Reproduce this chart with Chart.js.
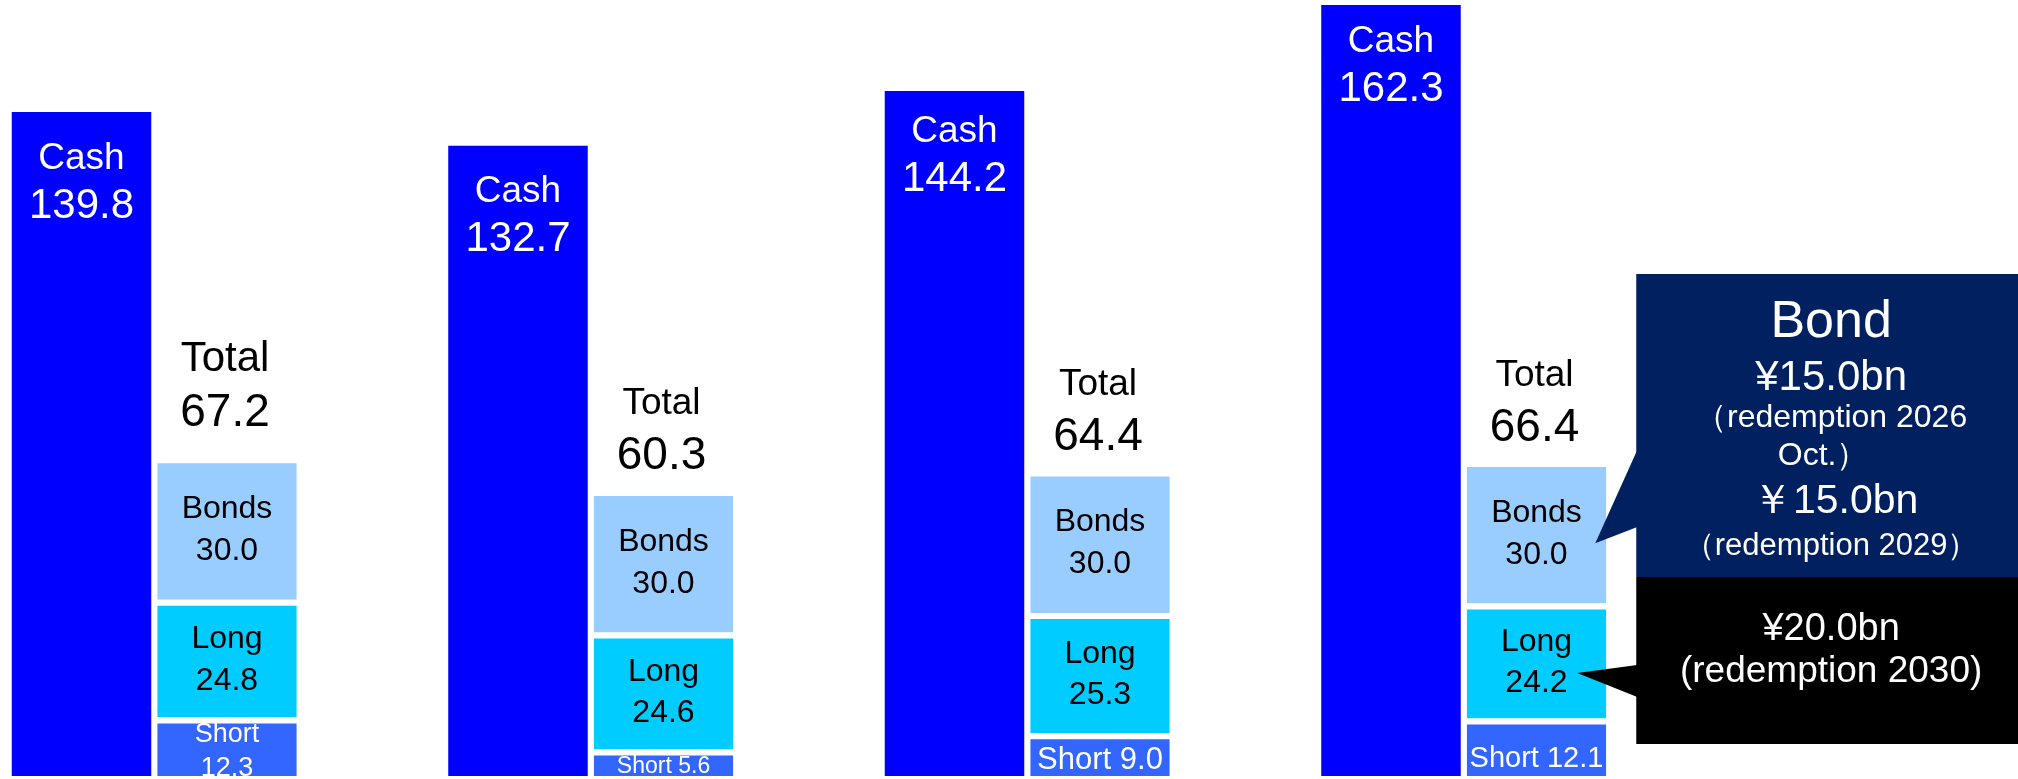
<!DOCTYPE html>
<html>
<head>
<meta charset="utf-8">
<script src="https://cdn.jsdelivr.net/npm/chart.js@4.4.1/dist/chart.umd.min.js"></script>
<style>
  body { margin: 0; background: #fff; }
  #wrap { position: relative; width: 2018px; height: 779px; }
</style>
</head>
<body>
<div id="wrap"><canvas id="myChart"></canvas></div>
<script>
// chart values (yen bn)
var categories = ['1', '2', '3', '4'];
var cashValues = [139.8, 132.7, 144.2, 162.3];
var shortValues = [12.3, 5.6, 9.0, 12.1];
var longValues = [24.8, 24.6, 25.3, 24.2];
var bondValues = [30.0, 30.0, 30.0, 30.0];
var totalValues = [67.2, 60.3, 64.4, 66.4];

// callout texts
var bondNote = ['Bond', '¥15.0bn', '（redemption 2026', 'Oct.）', '￥15.0bn', '（redemption 2029）'];
var longNote = ['¥20.0bn', '(redemption 2030)'];

var FONT = "'Liberation Sans', Arial, sans-serif";
var GAP = 6; // white gap on top of each stacked piece

// per-group label tweaks
var shortFont = [27, 23, 31, 29];
var shortTwoLines = [true, false, false, false];
var shortShift = [0, -1, 0, 6];
var cashShift = [5, 4, -1, -5];
var totalWordFont = [42, 37, 37, 37];
var totalGap = [37, 27, 27, 26];

function txt(ctx, s, x, y, size, color) {
    ctx.font = size + 'px ' + FONT;
    ctx.fillStyle = color;
    ctx.textAlign = 'center';
    ctx.textBaseline = 'alphabetic';
    ctx.fillText(s, x, y);
}

function twoLines(ctx, a, b, x, cy, size, color, lh, shift) {
    var gap = size * lh;
    var cap = size * 0.716;
    txt(ctx, a, x, cy - gap / 2 + cap / 2 + shift, size, color);
    txt(ctx, b, x, cy + gap / 2 + cap / 2 + shift, size, color);
}

var labelPlugin = {
    id: 'labels',
    afterDatasetsDraw: function(chart) {
        var ctx = chart.ctx;
        ctx.save();
        var cash = chart.getDatasetMeta(0).data;
        var shorts = chart.getDatasetMeta(1).data;
        var longs = chart.getDatasetMeta(2).data;
        var bonds = chart.getDatasetMeta(3).data;

        for (var i = 0; i < categories.length; i++) {
            // Cash
            var c = cash[i];
            txt(ctx, 'Cash', c.x, c.y + 52 + cashShift[i], 37, '#fff');
            txt(ctx, cashValues[i].toFixed(1), c.x, c.y + 101 + cashShift[i], 42, '#fff');

            // Short
            var s = shorts[i];
            var scy = (s.y + GAP + s.base) / 2;
            if (shortTwoLines[i]) {
                twoLines(ctx, 'Short', shortValues[i].toFixed(1), s.x, scy, shortFont[i], '#fff', 1.26, 0);
            } else {
                txt(ctx, 'Short ' + shortValues[i].toFixed(1), s.x, scy + shortFont[i] * 0.358 + shortShift[i], shortFont[i], '#fff');
            }

            // Long
            var l = longs[i];
            twoLines(ctx, 'Long', longValues[i].toFixed(1), l.x, (l.y + GAP + l.base) / 2, 32, '#000', 1.3, -4);

            // Bonds
            var b = bonds[i];
            twoLines(ctx, 'Bonds', bondValues[i].toFixed(1), b.x, (b.y + GAP + b.base) / 2, 32, '#000', 1.3, -4);

            // Total above the stack
            var numY = b.y + GAP - totalGap[i];
            txt(ctx, totalValues[i].toFixed(1), b.x - 2, numY, 46, '#000');
            txt(ctx, 'Total', b.x - 2, numY - 55, totalWordFont[i], '#000');
        }
        ctx.restore();
    },
    afterDraw: function(chart) {
        var ctx = chart.ctx;
        var last = categories.length - 1;
        var b = chart.getDatasetMeta(3).data[last];
        var l = chart.getDatasetMeta(2).data[last];
        var right = b.x + b.width / 2;
        var boxL = right + 30;
        var boxR = chart.width;
        var cx = (boxL + boxR) / 2 + 4;

        ctx.save();
        // navy callout for bonds
        var navyTop = 274, navyBot = 577;
        ctx.fillStyle = '#002060';
        ctx.fillRect(boxL, navyTop, boxR - boxL, navyBot - navyTop);
        ctx.beginPath();
        ctx.moveTo(boxL + 1, 450);
        ctx.lineTo(right - 11, (b.y + b.base) / 2 + 11);
        ctx.lineTo(boxL + 1, 527);
        ctx.closePath();
        ctx.fill();

        txt(ctx, bondNote[0], cx, navyTop + 63, 52, '#fff');
        txt(ctx, bondNote[1], cx, navyTop + 116, 42, '#fff');
        txt(ctx, bondNote[2], cx, navyTop + 153, 32, '#fff');
        txt(ctx, bondNote[3], cx - 8, navyTop + 191, 32, '#fff');
        txt(ctx, bondNote[4], cx + 4, navyTop + 239, 41, '#fff');
        txt(ctx, bondNote[5], cx, navyTop + 281, 31, '#fff');

        // black callout for long
        var blackTop = 577, blackBot = 744;
        ctx.fillStyle = '#000';
        ctx.fillRect(boxL, blackTop, boxR - boxL, blackBot - blackTop);
        ctx.beginPath();
        ctx.moveTo(boxL + 1, 665);
        ctx.lineTo(right - 29, (l.y + l.base) / 2 + 12);
        ctx.lineTo(boxL + 1, 697);
        ctx.closePath();
        ctx.fill();

        txt(ctx, longNote[0], cx, blackTop + 63, 38, '#fff');
        txt(ctx, longNote[1], cx, blackTop + 105, 37, '#fff');
        ctx.restore();
    }
};

var gapBorder = { top: GAP, bottom: 0, left: 0, right: 0 };

var ctx = document.getElementById('myChart').getContext('2d');
var myChart = new Chart(ctx, {
    type: 'bar',
    data: {
        labels: categories,
        datasets: [{
            label: 'Cash',
            data: cashValues,
            stack: 'cash',
            backgroundColor: '#0000FF',
            borderWidth: 0
        }, {
            label: 'Short',
            data: shortValues,
            stack: 'inv',
            backgroundColor: '#3366FF',
            borderColor: '#FFFFFF',
            borderWidth: gapBorder,
            borderSkipped: false
        }, {
            label: 'Long',
            data: longValues,
            stack: 'inv',
            backgroundColor: '#00CCFF',
            borderColor: '#FFFFFF',
            borderWidth: gapBorder,
            borderSkipped: false
        }, {
            label: 'Bonds',
            data: bondValues,
            stack: 'inv',
            backgroundColor: '#99CCFF',
            borderColor: '#FFFFFF',
            borderWidth: gapBorder,
            borderSkipped: false
        }]
    },
    options: {
        responsive: true,
        maintainAspectRatio: false,
        animation: false,
        clip: false,
        categoryPercentage: 0.6667,
        barPercentage: 0.9588,
        layout: {
            padding: { left: 154.25, right: 554.25, top: 0, bottom: 3 }
        },
        scales: {
            x: { display: false, stacked: true, offset: false, grid: { display: false } },
            y: { display: false, stacked: true, min: 0, max: 163.37, grid: { display: false } }
        },
        plugins: {
            legend: { display: false },
            tooltip: { enabled: false }
        }
    },
    plugins: [labelPlugin]
});
</script>
</body>
</html>
